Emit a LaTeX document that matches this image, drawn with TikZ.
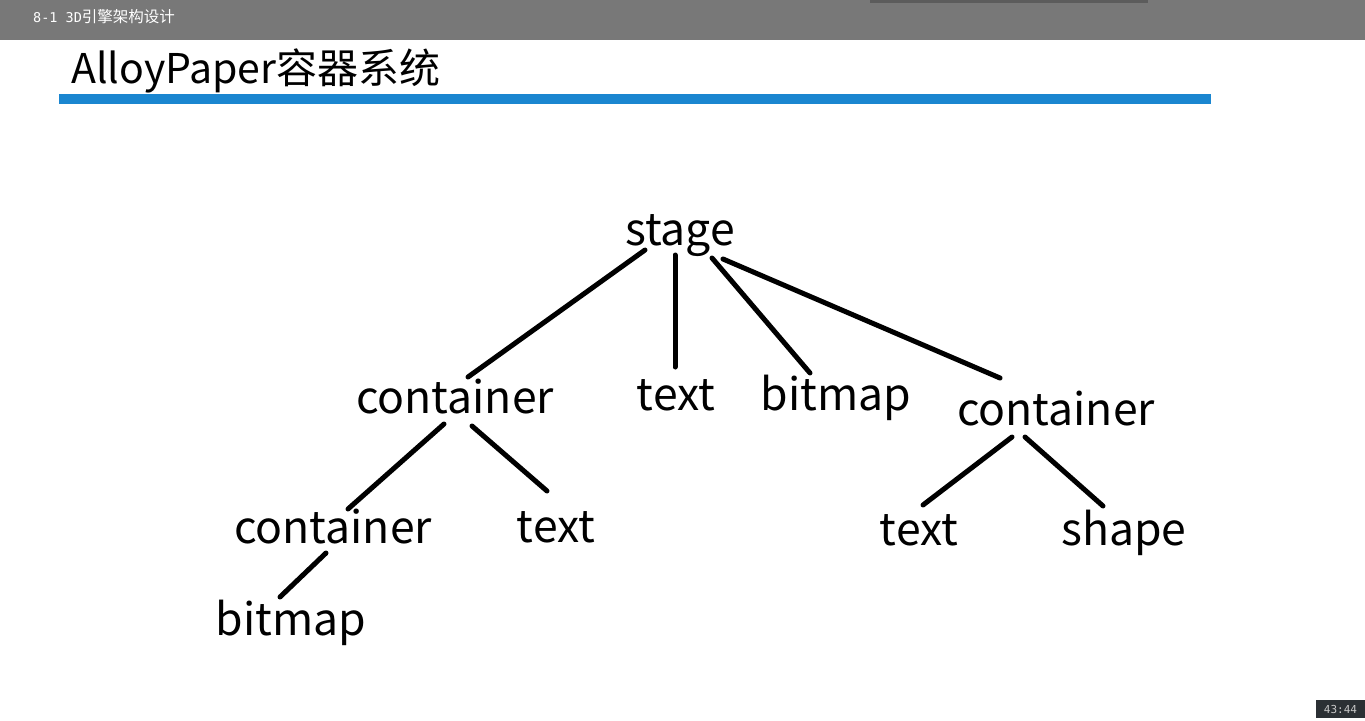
\documentclass[tikz,border=0pt]{standalone}
\usepackage{fontspec}
\setmainfont{Noto Sans CJK SC}
\newfontfamily\cjk{Noto Sans CJK SC}
\newfontfamily\monofont{DejaVu Sans Mono}
\usetikzlibrary{calc}
\definecolor{topbar}{RGB}{120,120,120}
\definecolor{shadowgray}{RGB}{92,92,92}
\definecolor{titleblue}{RGB}{26,134,208}
\definecolor{timebox}{RGB}{43,48,52}
\definecolor{timetext}{RGB}{200,200,200}
\tikzset{
  treelabel/.style={inner sep=0pt, anchor=base, font=\fontsize{44.5}{48}\selectfont, text=black},
  edge/.style={line width=5pt, line cap=round, black},
}
\begin{document}
\begin{tikzpicture}[x=1pt, y=-1pt]
\useasboundingbox (0,0) rectangle (1365,720);
\fill[white] (0,0) rectangle (1365,720);
% top bar
\fill[topbar] (0,0) rectangle (1365,40);
\fill[shadowgray] (870,0) rectangle (1148,2.5);
\node[anchor=base west, inner sep=0pt, text=white] (bartitle) at (33,22) {{\monofont\fontsize{13.5}{16}\selectfont 8-1 3D}{\cjk\fontsize{15.5}{16}\selectfont 引擎架构设计}};
% title
\node[anchor=base west, inner sep=0pt, font=\cjk\fontsize{41}{44}\selectfont] (title) at (71,83) {AlloyPaper容器系统};
\fill[titleblue] (59,94) rectangle (1211,104);
% tree nodes
\node[treelabel] (stage) at (680,245) {stage};
\node[treelabel] (c1) at (455,413) {container};
\node[treelabel] (t1) at (676,410) {text};
\node[treelabel] (b1) at (836,410) {bitmap};
\node[treelabel] (c2) at (1056,425) {container};
\node[treelabel] (c3) at (333,543) {container};
\node[treelabel] (t2) at (556,542) {text};
\node[treelabel] (b2) at (291,635) {bitmap};
\node[treelabel] (t3) at (919,545) {text};
\node[treelabel] (sh) at (1124,545) {shape};
% edges
\draw[edge] ($(stage.base)+(-35,5)$) -- ($(c1.base)+(13,-36)$);
\draw[edge] ($(stage.base)+(-5,10)$) -- ($(t1.base)+(-1,-43)$);
\draw[edge] ($(stage.base)+(32,13)$) -- ($(b1.base)+(-26,-37)$);
\draw[edge] ($(stage.base)+(43,14)$) -- ($(c2.base)+(-56,-47)$);
\draw[edge] ($(c1.base)+(-11,11)$) -- ($(c3.base)+(15,-34)$);
\draw[edge] ($(c1.base)+(17,13)$) -- ($(t2.base)+(-9,-51)$);
\draw[edge] ($(c3.base)+(-7,10)$) -- ($(b2.base)+(-11,-38)$);
\draw[edge] ($(c2.base)+(-44,12)$) -- ($(t3.base)+(4,-40)$);
\draw[edge] ($(c2.base)+(-31,12)$) -- ($(sh.base)+(-21,-39)$);
% timestamp
\fill[timebox] (1316,700) rectangle (1365,718);
\node[inner sep=0pt, text=timetext, font=\monofont\fontsize{11}{12}\selectfont] (time) at (1340.5,709) {43:44};
\end{tikzpicture}
\end{document}
